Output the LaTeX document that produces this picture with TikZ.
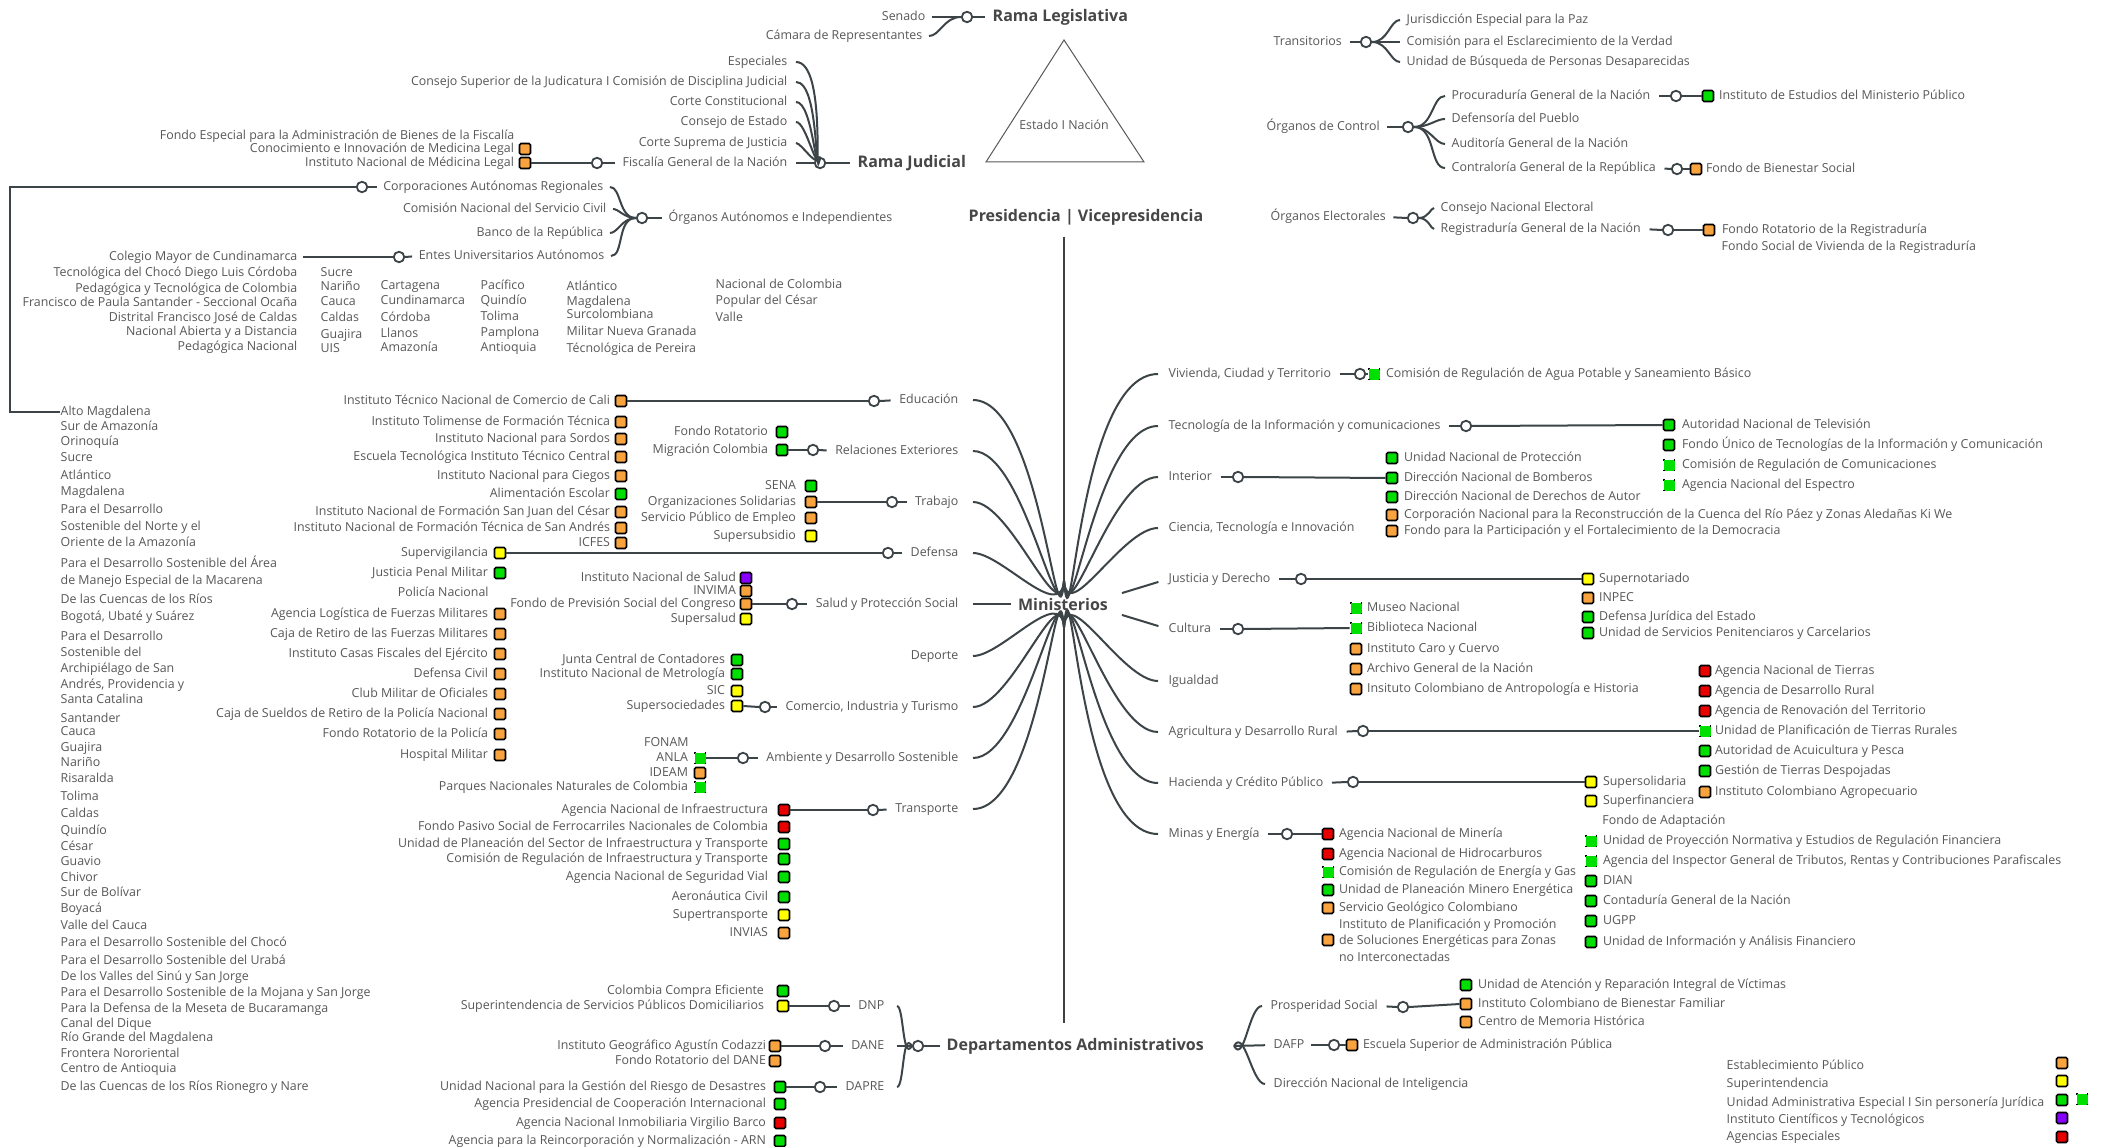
\documentclass[tikz,border=0pt]{standalone}
\usepackage{fontspec}
\setmainfont{Open Sans}
\usepackage{tikz}
\usetikzlibrary{positioning}
\definecolor{txt}{RGB}{88,88,88}
\definecolor{ln}{RGB}{60,68,72}
\definecolor{cna}{RGB}{248,163,62}
\definecolor{cve}{RGB}{0,224,0}
\definecolor{cam}{RGB}{255,255,0}
\definecolor{cro}{RGB}{232,0,0}
\definecolor{cmo}{RGB}{136,0,255}
\newcommand{\smallf}{\fontsize{12.4}{16.5}\selectfont}
\newcommand{\bigf}{\fontsize{16}{19}\selectfont\bfseries}
\tikzstyle{lbl}=[font=\smallf, text=txt, inner sep=0.5pt, text height=8.8pt, text depth=2.4pt]
\tikzstyle{ttl}=[font=\bigf, text=txt!80!black, inner sep=0.5pt]
\tikzstyle{hub}=[circle, draw=ln, line width=1.8pt, fill=white, minimum size=10.5pt, inner sep=0pt]
\tikzstyle{lnk}=[draw=ln, line width=2pt]
\tikzstyle{sq}=[rectangle, minimum size=11pt, inner sep=0pt, draw=black, line width=1.7pt, rounded corners=1.5pt]
\tikzstyle{sqo}=[sq, fill=cna]
\tikzstyle{sqv}=[sq, fill=cve]
\tikzstyle{sqa}=[sq, fill=cam]
\tikzstyle{sqr}=[sq, fill=cro]
\tikzstyle{sqm}=[sq, fill=cmo]
\tikzstyle{sqd}=[rectangle, minimum size=11pt, inner sep=0pt, fill=cve, draw=black, line width=1.7pt, dash pattern=on 1.6pt off 9.4pt, dash phase=0.8pt]
\tikzstyle{sqn}=[rectangle, minimum size=11pt, inner sep=0pt]

\begin{document}
\begin{tikzpicture}[x=1pt,y=-1pt]
\useasboundingbox (0,0) rectangle (2116,1147);
\fill[white] (0,0) rectangle (2116,1147);

% Rama Legislativa
\node[ttl, anchor=west] (rl) at (992,17) {Rama Legislativa};
\node[hub] (hl) at (967,17) {};
\node[lbl, anchor=east] (sen) at (926,17) {Senado};
\node[lbl, anchor=east] (cam) at (923,36) {Cámara de Representantes};
\draw[lnk, shorten <=6pt] (sen.east) -- (hl.west);
\draw[lnk, shorten <=6pt] (cam.east) to[out=0,in=180] (hl.west);
\draw[lnk, shorten >=7pt] (hl.east) -- (rl.west);

% Estado
\coordinate (ta) at (1064,40);
\coordinate (tb) at (986,162);
\coordinate (tc) at (1144,162);
\draw[txt, line width=1pt] (ta) -- (tb) -- (tc) -- cycle;
\node[lbl] (est) at (1064,126) {Estado I Nación};

% Rama Judicial
\node[ttl, anchor=west] (rj) at (857,163) {Rama Judicial};
\node[hub] (hj) at (820,163) {};
\draw[lnk, shorten >=7pt] (hj.east) -- (rj.west);
\foreach \yy/\tx [count=\i] in {62/Especiales, 82/{Consejo Superior de la Judicatura I Comisión de Disciplina Judicial}, 102/Corte Constitucional, 122/Consejo de Estado, 143/Corte Suprema de Justicia}
  {\node[lbl, anchor=east] (j\i) at (788,\yy) {\tx};
   \draw[lnk, shorten <=8pt] (j\i.east) to[out=0,in=-100] (hj.north);}
\node[lbl, anchor=east] (fis) at (788,163) {Fiscalía General de la Nación};
\draw[lnk, shorten <=8pt] (fis.east) -- (hj.west);

% Fiscalia
\node[hub] (hf) at (597,163) {};
\draw[lnk, shorten >=7pt] (hf.east) -- (fis.west);
\node[lbl, anchor=east] (f1) at (515,136) {Fondo Especial para la Administración de Bienes de la Fiscalía};
\node[sqo] (f2) at (525,149) {};
\node[sqo] (f3) at (525,163) {};
\node[lbl, left=4pt of f2] (f2t) {Conocimiento e Innovación de Medicina Legal};
\node[lbl, left=4pt of f3] (f3t) {Instituto Nacional de Médicina Legal};
\draw[lnk] (f3.east) -- (hf.west);

% Organos Autonomos e Independientes
\node[hub] (ho) at (642,218) {};
\node[lbl, anchor=west] (oai) at (668,218) {Órganos Autónomos e Independientes};
\draw[lnk, shorten >=6pt] (ho.east) -- (oai.west);
\node[lbl, anchor=east] (o1) at (604,187) {Corporaciones Autónomas Regionales};
\node[lbl, anchor=east] (o2) at (607,209) {Comisión Nacional del Servicio Civil};
\node[lbl, anchor=east] (o3) at (604,233) {Banco de la República};
\node[lbl, anchor=east] (o4) at (605,256) {Entes Universitarios Autónomos};
\foreach \i in {1,...,4}
  \draw[lnk, shorten <=6pt] (o\i.east) to[out=0,in=180] (ho.west);

% Corporaciones Autonomas Regionales
\node[hub] (hc) at (362,187) {};
\draw[lnk, shorten >=6pt] (hc.east) -- (o1.west);
\foreach \yy/\tx [count=\i] in {412/Alto Magdalena, 427/Sur de Amazonía, 442/Orinoquía, 458/Sucre, 476/Atlántico, 492/Magdalena, 510/Para el Desarrollo, 527/Sostenible del Norte y el, 543/Oriente de la Amazonía, 564/Para el Desarrollo Sostenible del Área, 581/de Manejo Especial de la Macarena, 600/De las Cuencas de los Ríos, 617/{Bogotá, Ubaté y Suárez}, 637/Para el Desarrollo, 653/Sostenible del, 669/Archipiélago de San, 685/{Andrés, Providencia y}, 700/Santa Catalina, 719/Santander, 732/Cauca, 748/Guajira, 763/Nariño, 779/Risaralda, 797/Tolima, 814/Caldas, 831/Quindío, 847/César, 862/Guavio, 878/Chivor, 893/Sur de Bolívar, 909/Boyacá, 926/Valle del Cauca, 943/Para el Desarrollo Sostenible del Chocó, 961/Para el Desarrollo Sostenible del Urabá, 977/De los Valles del Sinú y San Jorge, 993/Para el Desarrollo Sostenible de la Mojana y San Jorge, 1009/Para la Defensa de la Meseta de Bucaramanga, 1024/Canal del Dique, 1038/Río Grande del Magdalena, 1054/Frontera Nororiental, 1069/Centro de Antioquia, 1087/De las Cuencas de los Ríos Rionegro y Nare}
  \node[lbl, anchor=west] (c\i) at (60,\yy) {\tx};
\coordinate (k) at (10,187);
\draw[ln, line width=1.4pt] (hc.west) -- (k) |- (c1.west);

% Entes Universitarios
\node[hub] (hu) at (399,257) {};
\draw[lnk, shorten >=6pt] (hu.east) -- (o4.west);
\foreach \yy/\tx [count=\i] in {257/Colegio Mayor de Cundinamarca, 273/Tecnológica del Chocó Diego Luis Córdoba, 289/Pedagógica y Tecnológica de Colombia, 303/Francisco de Paula Santander - Seccional Ocaña, 318/Distrital Francisco José de Caldas, 332/Nacional Abierta y a Distancia, 347/Pedagógica Nacional}
  \node[lbl, anchor=east] (u\i) at (298,\yy) {\tx};
\draw[lnk, shorten <=5pt] (u1.east) -- (hu.west);
\foreach \xx/\yy/\tx [count=\i] in {320/273/Sucre, 320/287/Nariño, 320/302/Cauca, 320/318/Caldas, 320/335/Guajira, 320/349/UIS, 380/286/Cartagena, 380/301/Cundinamarca, 380/318/Córdoba, 380/334/Llanos, 380/348/Amazonía, 480/286/Pacífico, 480/301/Quindío, 480/317/Tolima, 480/333/Pamplona, 480/348/Antioquia, 566/287/Atlántico, 566/302/Magdalena, 566/315/Surcolombiana, 566/332/Militar Nueva Granada, 566/349/Técnológica de Pereira, 715/285/Nacional de Colombia, 715/301/Popular del César, 715/318/Valle}
  \node[lbl, anchor=west] (v\i) at (\xx,\yy) {\tx};

% Presidencia, Ministerios, Departamentos
\node[ttl, anchor=west] (pre) at (968,217) {Presidencia | Vicepresidencia};
\node[ttl] (min) at (1063,604) {Ministerios};
\node[ttl, anchor=west] (dep) at (946,1046) {Departamentos Administrativos};
\coordinate (mn) at (1064,581);
\coordinate (ms) at (1064,627);
\draw[black!75, line width=1.6pt, shorten <=11pt] (pre.south -| mn) -- (mn);
\draw[black!75, line width=1.6pt, shorten >=14pt] (ms) -- (ms |- dep.north);

\foreach \yy/\tx/\nm in {400/Educación/edu, 451/Relaciones Exteriores/rel, 502/Trabajo/trb, 553/Defensa/def}
  {\node[lbl, anchor=east] (\nm) at (959,\yy) {\tx};
   \draw[lnk, shorten <=14pt] (\nm.east) to[out=0,in=-95] (mn);}
\node[lbl, anchor=east] (sal) at (959,604) {Salud y Protección Social};
\draw[lnk, shorten <=14pt, shorten >=6pt] (sal.east) -- (min.west);
\foreach \yy/\tx/\nm in {656/Deporte/dpt, 707/{Comercio, Industria y Turismo}/com, 758/Ambiente y Desarrollo Sostenible/amb, 809/Transporte/trn}
  {\node[lbl, anchor=east] (\nm) at (959,\yy) {\tx};
   \draw[lnk, shorten <=14pt] (\nm.east) to[out=0,in=95] (ms);}

\foreach \yy/\tx/\nm in {374/{Vivienda, Ciudad y Territorio}/viv, 426/Tecnología de la Información y comunicaciones/tic, 477/Interior/int, 528/{Ciencia, Tecnología e Innovación}/cie}
  {\node[lbl, anchor=west] (\nm) at (1168,\yy) {\tx};
   \draw[lnk, shorten >=10pt] (mn) to[out=-85,in=180] (\nm.west);}
\node[lbl, anchor=west] (jus) at (1168,579) {Justicia y Derecho};
\node[lbl, anchor=west] (cul) at (1168,629) {Cultura};
\draw[lnk, shorten <=14pt, shorten >=10pt] (min.north east) -- (jus.west);
\draw[lnk, shorten <=14pt, shorten >=10pt] (min.south east) -- (cul.west);
\foreach \yy/\tx/\nm in {681/Igualdad/igu, 732/Agricultura y Desarrollo Rural/agr, 783/Hacienda y Crédito Público/hac, 834/Minas y Energía/mne}
  {\node[lbl, anchor=west] (\nm) at (1168,\yy) {\tx};
   \draw[lnk, shorten >=10pt] (ms) to[out=85,in=180] (\nm.west);}

% Educacion
\node[hub] (he) at (874,401) {};
\draw[lnk, shorten >=8pt] (he.east) -- (edu.west);
\foreach \yy/\st/\tx [count=\i] in {401/sqo/Instituto Técnico Nacional de Comercio de Cali, 422/sqo/Instituto Tolimense de Formación Técnica, 439/sqo/Instituto Nacional para Sordos, 457/sqo/Escuela Tecnológica Instituto Técnico Central, 476/sqo/Instituto Nacional para Ciegos, 494/sqv/Alimentación Escolar, 512/sqo/Instituto Nacional de Formación San Juan del César, 528/sqo/Instituto Nacional de Formación Técnica de San Andrés, 543/sqo/ICFES}
  {\node[\st] (e\i) at (621,\yy) {};
   \node[lbl, left=4pt of e\i] (et\i) {\tx};}
\draw[lnk] (e1.east) -- (he.west);

% Relaciones Exteriores
\node[hub] (hr) at (813,450) {};
\draw[lnk, shorten >=8pt] (hr.east) -- (rel.west);
\foreach \yy/\st/\tx [count=\i] in {432/sqv/Fondo Rotatorio, 450/sqv/Migración Colombia}
  {\node[\st] (r\i) at (782,\yy) {};
   \node[lbl, left=7pt of r\i] (rt\i) {\tx};}
\draw[lnk] (r2.east) -- (hr.west);

% Trabajo
\node[hub] (hw) at (892,502) {};
\draw[lnk, shorten >=8pt] (hw.east) -- (trb.west);
\foreach \yy/\st/\tx [count=\i] in {486/sqv/SENA, 502/sqo/Organizaciones Solidarias, 518/sqo/Servicio Público de Empleo, 536/sqa/Supersubsidio}
  {\node[\st] (w\i) at (811,\yy) {};
   \node[lbl, left=8pt of w\i] (wt\i) {\tx};}
\draw[lnk] (w2.east) -- (hw.west);

% Defensa
\node[hub] (hd) at (888,553) {};
\draw[lnk, shorten >=8pt] (hd.east) -- (def.west);
\foreach \yy/\st/\tx [count=\i] in {553/sqa/Supervigilancia, 573/sqv/Justicia Penal Militar, 593/sqn/Policía Nacional, 614/sqo/Agencia Logística de Fuerzas Militares, 634/sqo/Caja de Retiro de las Fuerzas Militares, 654/sqo/Instituto Casas Fiscales del Ejército, 674/sqo/Defensa Civil, 694/sqo/Club Militar de Oficiales, 714/sqo/Caja de Sueldos de Retiro de la Policía Nacional, 734/sqo/Fondo Rotatorio de la Policía, 755/sqo/Hospital Militar}
  {\node[\st] (d\i) at (500,\yy) {};
   \node[lbl, left=5pt of d\i] (dt\i) {\tx};}
\draw[lnk] (d1.east) -- (hd.west);

% Salud
\node[hub] (hs) at (792,604) {};
\draw[lnk, shorten >=8pt] (hs.east) -- (sal.west);
\foreach \yy/\st/\tx [count=\i] in {578/sqm/Instituto Nacional de Salud, 591/sqo/INVIMA, 604/sqo/Fondo de Previsión Social del Congreso, 619/sqa/Supersalud}
  {\node[\st] (s\i) at (746,\yy) {};
   \node[lbl, left=3pt of s\i] (st\i) {\tx};}
\draw[lnk] (s3.east) -- (hs.west);

% Comercio
\node[hub] (hm) at (765,707) {};
\draw[lnk, shorten >=8pt] (hm.east) -- (com.west);
\foreach \yy/\st/\tx [count=\i] in {660/sqv/Junta Central de Contadores, 674/sqv/Instituto Nacional de Metrología, 691/sqa/SIC, 706/sqa/Supersociedades}
  {\node[\st] (m\i) at (737,\yy) {};
   \node[lbl, left=5pt of m\i] (mt\i) {\tx};}
\draw[lnk] (m4.east) -- (hm.west);

% Ambiente
\node[hub] (ha) at (743,758) {};
\draw[lnk, shorten >=8pt] (ha.east) -- (amb.west);
\foreach \yy/\st/\tx [count=\i] in {743/sqn/FONAM, 758/sqd/ANLA, 773/sqo/IDEAM, 787/sqd/Parques Nacionales Naturales de Colombia}
  {\node[\st] (a\i) at (700,\yy) {};
   \node[lbl, left=5pt of a\i] (at\i) {\tx};}
\draw[lnk] (a2.east) -- (ha.west);

% Transporte
\node[hub] (ht) at (873,810) {};
\draw[lnk, shorten >=8pt] (ht.east) -- (trn.west);
\foreach \yy/\st/\tx [count=\i] in {810/sqr/Agencia Nacional de Infraestructura, 827/sqr/Fondo Pasivo Social de Ferrocarriles Nacionales de Colombia, 844/sqv/Unidad de Planeación del Sector de Infraestructura y Transporte, 859/sqv/Comisión de Regulación de Infraestructura y Transporte, 877/sqv/Agencia Nacional de Seguridad Vial, 897/sqv/Aeronáutica Civil, 915/sqa/Supertransporte, 933/sqo/INVIAS}
  {\node[\st] (t\i) at (784,\yy) {};
   \node[lbl, left=9pt of t\i] (tt\i) {\tx};}
\draw[lnk] (t1.east) -- (ht.west);

% Departamentos (izquierda)
\node[hub] (hdp) at (918,1046) {};
\draw[lnk, shorten >=6pt] (hdp.east) -- (dep.west);
\node[lbl, anchor=east] (dnp) at (885,1006) {DNP};
\node[lbl, anchor=east] (dne) at (885,1046) {DANE};
\node[lbl, anchor=east] (dpr) at (885,1087) {DAPRE};
\draw[lnk, shorten <=12pt] (dnp.east) to[out=0,in=-120] (hdp.west);
\draw[lnk, shorten <=12pt] (dne.east) -- (hdp.west);
\draw[lnk, shorten <=12pt] (dpr.east) to[out=0,in=120] (hdp.west);

\node[hub] (hn) at (834,1006) {};
\draw[lnk, shorten >=8pt] (hn.east) -- (dnp.west);
\foreach \yy/\st/\tx [count=\i] in {991/sqv/Colombia Compra Eficiente, 1006/sqa/Superintendencia de Servicios Públicos Domiciliarios}
  {\node[\st] (n\i) at (783,\yy) {};
   \node[lbl, left=12pt of n\i] (nt\i) {\tx};}
\draw[lnk] (n2.east) -- (hn.west);

\node[hub] (hx) at (825,1046) {};
\draw[lnk, shorten >=8pt] (hx.east) -- (dne.west);
\foreach \yy/\st/\tx [count=\i] in {1046/sqo/Instituto Geográfico Agustín Codazzi, 1061/sqo/Fondo Rotatorio del DANE}
  {\node[\st] (x\i) at (775,\yy) {};
   \node[lbl, left=2pt of x\i] (xt\i) {\tx};}
\draw[lnk] (x1.east) -- (hx.west);

\node[hub] (hp) at (820,1087) {};
\draw[lnk, shorten >=8pt] (hp.east) -- (dpr.west);
\foreach \yy/\st/\tx [count=\i] in {1087/sqv/Unidad Nacional para la Gestión del Riesgo de Desastres, 1104/sqv/Agencia Presidencial de Cooperación Internacional, 1123/sqr/Agencia Nacional Inmobiliaria Virgilio Barco, 1141/sqv/Agencia para la Reincorporación y Normalización - ARN}
  {\node[\st] (p\i) at (780,\yy) {};
   \node[lbl, left=7pt of p\i] (pt\i) {\tx};}
\draw[lnk] (p1.east) -- (hp.west);

% Departamentos (derecha)
\coordinate (dr) at (1234,1046);
\node[lbl, anchor=west] (pro) at (1270,1006) {Prosperidad Social};
\node[lbl, anchor=west] (daf) at (1273,1045) {DAFP};
\node[lbl, anchor=west] (dni) at (1273,1084) {Dirección Nacional de Inteligencia};
\draw[lnk, shorten >=8pt] (dr) to[out=-60,in=180] (pro.west);
\draw[lnk, shorten >=8pt] (dr) -- (daf.west);
\draw[lnk, shorten >=8pt] (dr) to[out=60,in=180] (dni.west);

\node[hub] (hps) at (1403,1007) {};
\draw[lnk, shorten <=8pt] (pro.east) -- (hps.west);
\foreach \yy/\st/\tx [count=\i] in {985/sqv/Unidad de Atención y Reparación Integral de Víctimas, 1004/sqo/Instituto Colombiano de Bienestar Familiar, 1022/sqo/Centro de Memoria Histórica}
  {\node[\st] (q\i) at (1466,\yy) {};
   \node[lbl, right=5pt of q\i] (qt\i) {\tx};}
\draw[lnk] (hps.east) -- (q2.west);

\node[hub] (hdf) at (1334,1045) {};
\draw[lnk, shorten <=6pt] (daf.east) -- (hdf.west);
\node[sqo] (g1) at (1352,1045) {};
\node[lbl, right=4pt of g1] (gt1) {Escuela Superior de Administración Pública};
\draw[lnk] (hdf.east) -- (g1.west);

% Vivienda
\node[hub] (hv) at (1360,374) {};
\draw[lnk, shorten <=8pt] (viv.east) -- (hv.west);
\node[sqd] (y1) at (1374,374) {};
\node[lbl, right=5pt of y1] (yt1) {Comisión de Regulación de Agua Potable y Saneamiento Básico};
\draw[lnk] (hv.east) -- (y1.west);

% Tecnologia
\node[hub] (hti) at (1466,426) {};
\draw[lnk, shorten <=8pt] (tic.east) -- (hti.west);
\foreach \yy/\st/\tx [count=\i] in {425/sqv/Autoridad Nacional de Televisión, 445/sqv/Fondo Único de Tecnologías de la Información y Comunicación, 465/sqd/Comisión de Regulación de Comunicaciones, 485/sqd/Agencia Nacional del Espectro}
  {\node[\st] (ti\i) at (1669,\yy) {};
   \node[lbl, right=6pt of ti\i] (tit\i) {\tx};}
\draw[lnk] (hti.east) -- (ti1.west);

% Interior
\node[hub] (hin) at (1238,477) {};
\draw[lnk, shorten <=8pt] (int.east) -- (hin.west);
\foreach \yy/\st/\tx [count=\i] in {458/sqv/Unidad Nacional de Protección, 478/sqv/Dirección Nacional de Bomberos, 497/sqv/Dirección Nacional de Derechos de Autor, 515/sqo/Corporación Nacional para la Reconstrucción de la Cuenca del Río Páez y Zonas Aledañas Ki We, 531/sqo/Fondo para la Participación y el Fortalecimiento de la Democracia}
  {\node[\st] (in\i) at (1392,\yy) {};
   \node[lbl, right=5pt of in\i] (int\i) {\tx};}
\draw[lnk] (hin.east) -- (in2.west);

% Justicia
\node[hub] (hju) at (1301,579) {};
\draw[lnk, shorten <=8pt] (jus.east) -- (hju.west);
\foreach \yy/\st/\tx [count=\i] in {579/sqa/Supernotariado, 598/sqo/INPEC, 617/sqv/Defensa Jurídica del Estado, 633/sqv/Unidad de Servicios Penitenciaros y Carcelarios}
  {\node[\st] (ju\i) at (1588,\yy) {};
   \node[lbl, right=4pt of ju\i] (jut\i) {\tx};}
\draw[lnk] (hju.east) -- (ju1.west);

% Cultura
\node[hub] (hcu) at (1238,629) {};
\draw[lnk, shorten <=8pt] (cul.east) -- (hcu.west);
\foreach \yy/\st/\tx [count=\i] in {608/sqd/Museo Nacional, 628/sqd/Biblioteca Nacional, 649/sqo/Instituto Caro y Cuervo, 669/sqo/Archivo General de la Nación, 689/sqo/Insituto Colombiano de Antropología e Historia}
  {\node[\st] (cu\i) at (1356,\yy) {};
   \node[lbl, right=4pt of cu\i] (cut\i) {\tx};}
\draw[lnk] (hcu.east) -- (cu2.west);

% Agricultura
\node[hub] (hag) at (1363,731) {};
\draw[lnk, shorten <=8pt] (agr.east) -- (hag.west);
\foreach \yy/\st/\tx [count=\i] in {671/sqr/Agencia Nacional de Tierras, 691/sqr/Agencia de Desarrollo Rural, 711/sqr/Agencia de Renovación del Territorio, 731/sqd/Unidad de Planificación de Tierras Rurales, 751/sqv/Autoridad de Acuicultura y Pesca, 771/sqv/Gestión de Tierras Despojadas, 792/sqo/Instituto Colombiano Agropecuario}
  {\node[\st] (ag\i) at (1705,\yy) {};
   \node[lbl, right=3pt of ag\i] (agt\i) {\tx};}
\draw[lnk] (hag.east) -- (ag4.west);

% Hacienda
\node[hub] (hha) at (1353,782) {};
\draw[lnk, shorten <=8pt] (hac.east) -- (hha.west);
\foreach \yy/\st/\tx [count=\i] in {782/sqa/Supersolidaria, 801/sqa/Superfinanciera, 821/sqn/Fondo de Adaptación, 841/sqd/Unidad de Proyección Normativa y Estudios de Regulación Financiera, 861/sqd/{Agencia del Inspector General de Tributos, Rentas y Contribuciones Parafiscales}, 881/sqv/DIAN, 901/sqv/Contaduría General de la Nación, 921/sqv/UGPP, 942/sqv/Unidad de Información y Análisis Financiero}
  {\node[\st] (ha\i) at (1591,\yy) {};
   \node[lbl, right=5pt of ha\i] (hat\i) {\tx};}
\draw[lnk] (hha.east) -- (ha1.west);

% Minas
\node[hub] (hmi) at (1287,834) {};
\draw[lnk, shorten <=8pt] (mne.east) -- (hmi.west);
\foreach \yy/\st/\tx [count=\i] in {834/sqr/Agencia Nacional de Minería, 854/sqr/Agencia Nacional de Hidrocarburos, 872/sqd/Comisión de Regulación de Energía y Gas, 890/sqv/Unidad de Planeación Minero Energética, 908/sqo/Servicio Geológico Colombiano}
  {\node[\st] (mi\i) at (1328,\yy) {};
   \node[lbl, right=4pt of mi\i] (mit\i) {\tx};}
\node[sqo] (mi6) at (1328,940) {};
\node[font=\smallf, text=txt, inner sep=0.5pt, align=left, right=4pt of mi6] (mit6) {Instituto de Planificación y Promoción\\de Soluciones Energéticas para Zonas\\no Interconectadas};
\draw[lnk] (hmi.east) -- (mi1.west);

% Transitorios
\node[lbl, anchor=west] (trs) at (1273,42) {Transitorios};
\node[hub] (htr) at (1366,42) {};
\draw[lnk, shorten <=7pt] (trs.east) -- (htr.west);
\foreach \yy/\tx [count=\i] in {20/Jurisdicción Especial para la Paz, 42/Comisión para el Esclarecimiento de la Verdad, 62/Unidad de Búsqueda de Personas Desaparecidas}
  {\node[lbl, anchor=west] (tr\i) at (1406,\yy) {\tx};
   \draw[lnk, shorten >=6pt] (htr.east) to[out=0,in=180] (tr\i.west);}

% Organos de Control
\node[lbl, anchor=west] (ctl) at (1266,127) {Órganos de Control};
\node[hub] (hco) at (1408,127) {};
\draw[lnk, shorten <=7pt] (ctl.east) -- (hco.west);
\foreach \yy/\tx [count=\i] in {96/Procuraduría General de la Nación, 119/Defensoría del Pueblo, 144/Auditoría General de la Nación, 168/Contraloría General de la República}
  {\node[lbl, anchor=west] (co\i) at (1451,\yy) {\tx};
   \draw[lnk, shorten >=6pt] (hco.east) to[out=0,in=180] (co\i.west);}
\node[hub] (hpr) at (1676,96) {};
\draw[lnk, shorten <=8pt] (co1.east) -- (hpr.west);
\node[sqv] (b1) at (1708,96) {};
\node[lbl, right=4pt of b1] (bt1) {Instituto de Estudios del Ministerio Público};
\draw[lnk] (hpr.east) -- (b1.west);
\node[hub] (hct) at (1677,169) {};
\draw[lnk, shorten <=8pt] (co4.east) -- (hct.west);
\node[sqo] (b2) at (1696,169) {};
\node[lbl, right=3pt of b2] (bt2) {Fondo de Bienestar Social};
\draw[lnk] (hct.east) -- (b2.west);

% Organos Electorales
\node[lbl, anchor=west] (ele) at (1270,217) {Órganos Electorales};
\node[hub] (hel) at (1413,218) {};
\draw[lnk, shorten <=7pt] (ele.east) -- (hel.west);
\foreach \yy/\tx [count=\i] in {208/Consejo Nacional Electoral, 229/Registraduría General de la Nación}
  {\node[lbl, anchor=west] (el\i) at (1440,\yy) {\tx};
   \draw[lnk, shorten >=6pt] (hel.east) to[out=0,in=180] (el\i.west);}
\node[hub] (hrg) at (1668,230) {};
\draw[lnk, shorten <=8pt] (el2.east) -- (hrg.west);
\node[sqo] (b3) at (1709,230) {};
\node[lbl, right=6pt of b3] (bt3) {Fondo Rotatorio de la Registraduría};
\node[lbl, anchor=west] (bt4) at (1721,247) {Fondo Social de Vivienda de la Registraduría};
\draw[lnk] (hrg.east) -- (b3.west);

% Convenciones
\foreach \yy/\by/\st/\tx [count=\i] in {1066/1063/sqo/Establecimiento Público, 1084/1081/sqa/Superintendencia, 1103/1100/sqv/Unidad Administrativa Especial I Sin personería Jurídica, 1120/1118/sqm/Instituto Científicos y Tecnológicos, 1137/1137/sqr/Agencias Especiales}
  {\node[lbl, anchor=west] (lg\i) at (1726,\yy) {\tx};
   \node[\st] (lb\i) at (2062,\by) {};}
\node[sqd] (lb6) at (2082,1099) {};
\end{tikzpicture}
\end{document}
